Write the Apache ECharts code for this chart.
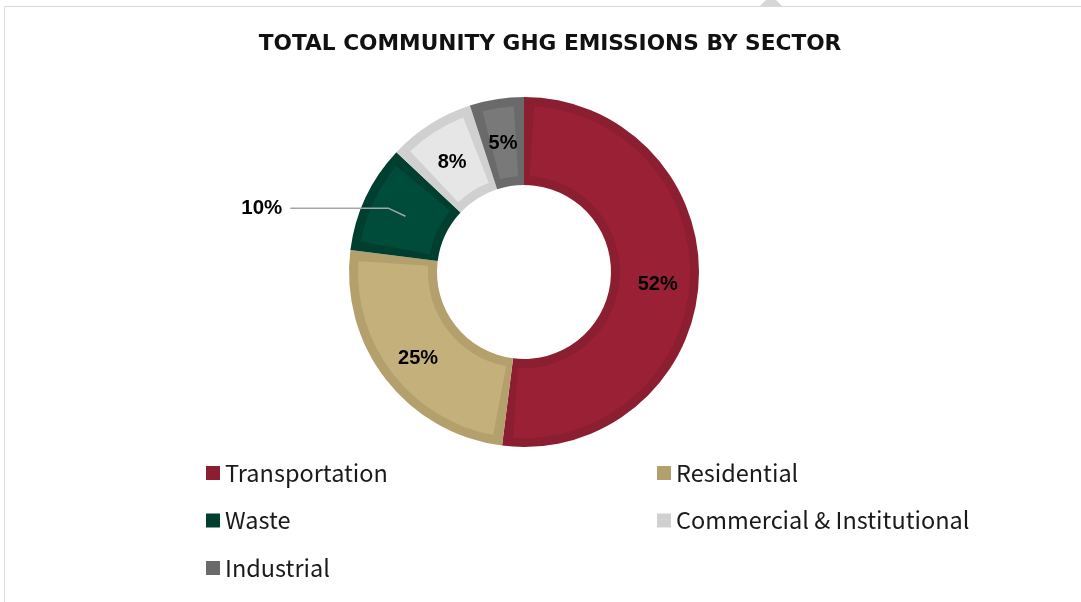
<!DOCTYPE html>
<html><head><meta charset="utf-8">
<script src="https://cdn.jsdelivr.net/npm/echarts@6/dist/echarts.min.js"></script>
<style>html,body{margin:0;padding:0;background:#fff}#chart{width:1081px;height:602px}</style>
</head><body><div id="chart"></div>
<script>
const titleText = 'TOTAL COMMUNITY GHG EMISSIONS BY SECTOR';
const categories = ['Transportation', 'Residential', 'Waste', 'Commercial & Institutional', 'Industrial'];
const values = [52, 25, 10, 8, 5];
const fillColors = ['#9a2135', '#c4b07a', '#004c3a', '#e6e6e6', '#797979'];
const edgeColors = ['#8b1e30', '#b3a06c', '#003f30', '#d1d0d0', '#6a6a6a'];
const legendCol1 = ['Transportation', 'Waste', 'Industrial'];
const legendCol2 = ['Residential', 'Commercial & Institutional'];
const outsideLabelCategory = 'Waste';

const chart = echarts.init(document.getElementById('chart'), null, { renderer: 'canvas' });
const center = [524, 272];
function makeData(colors) {
  return categories.map((c, i) => ({ name: c, value: values[i], itemStyle: { color: colors[i] } }));
}
const legendBase = {
  orient: 'vertical', itemWidth: 14, itemHeight: 14, icon: 'rect', itemGap: 23.5, top: 461,
  selectedMode: false, padding: 0,
  textStyle: { fontFamily: 'Noto Sans CJK JP', fontSize: 23.5, color: '#1a1a1a', lineHeight: 24 }
};
const option = {
  backgroundColor: '#ffffff',
  animation: false,
  graphic: [
    { type: 'rect', z: -10, shape: { x: 4.5, y: 6.5, width: 1100, height: 620 }, style: { fill: '#fff', stroke: '#d9d9d9', lineWidth: 1 } },
    { type: 'polygon', z: -9, shape: { points: [[760, 6], [782, 6], [771, -5]] }, style: { fill: '#d6d6d6' } }
  ],
  title: {
    text: titleText, left: 550, top: 33, textAlign: 'center', padding: 0,
    textStyle: { fontFamily: 'DejaVu Sans', fontWeight: 'bold', fontSize: 21.7, color: '#111' }
  },
  legend: [
    Object.assign({}, legendBase, { left: 206, data: legendCol1 }),
    Object.assign({}, legendBase, { left: 657, data: legendCol2 })
  ],
  series: [
    {
      type: 'pie', name: 'edge', z: 1, center: center, radius: [87, 175], startAngle: 90, clockwise: true,
      silent: true, label: { show: false }, labelLine: { show: false }, emphasis: { disabled: true },
      data: makeData(edgeColors)
    },
    {
      type: 'pie', name: 'fill', z: 2, center: center, radius: [96, 166], startAngle: 90, clockwise: true,
      padAngle: 7, silent: true, emphasis: { disabled: true },
      label: {
        show: true, position: 'inside', offset: [0, 4],
        formatter: p => (p.name === outsideLabelCategory ? '' : p.value + '%'),
        fontFamily: 'Liberation Sans', fontWeight: 'bold', fontSize: 20, color: '#000'
      },
      labelLine: { show: false },
      data: makeData(fillColors)
    },
    {
      type: 'pie', name: 'label', z: 3, center: center, radius: [0, 131], startAngle: 90, clockwise: true,
      silent: true, avoidLabelOverlap: false, emphasis: { disabled: true },
      label: { position: 'outside', distanceToLabelLine: 8, formatter: '{c}%', fontFamily: 'Liberation Sans', fontWeight: 'bold', fontSize: 20.5, color: '#000' },
      labelLine: { length: 19, length2: 98, lineStyle: { color: '#a6a6a6', width: 1.5 } },
      data: categories.map((c, i) => ({
        name: c, value: values[i], itemStyle: { color: 'rgba(0,0,0,0)' },
        label: { show: c === outsideLabelCategory },
        labelLine: { show: c === outsideLabelCategory }
      }))
    }
  ]
};
chart.setOption(option);
</script></body></html>
